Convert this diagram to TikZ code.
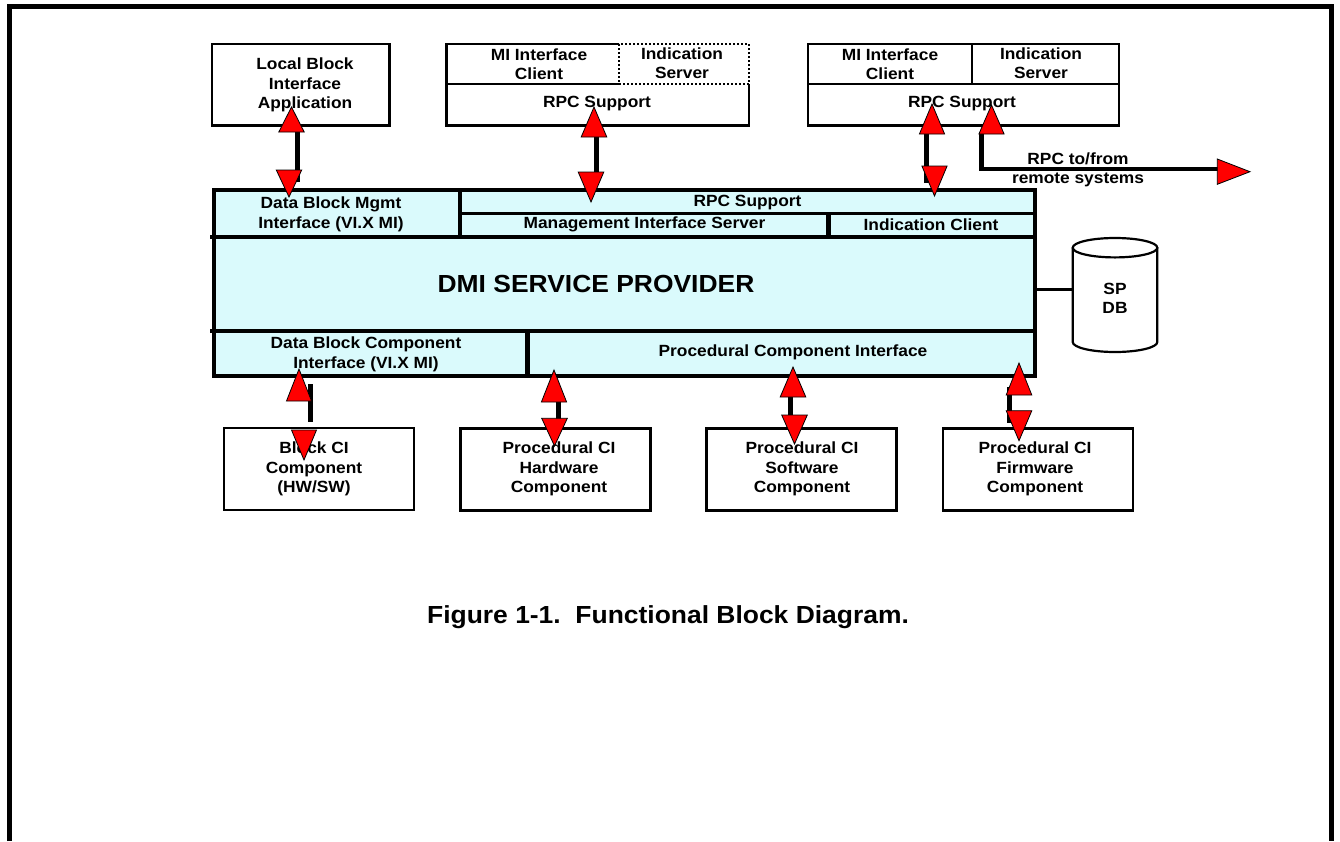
\documentclass[tikz,border=0pt]{standalone}
\usepackage{fontspec}
\setmainfont{Liberation Sans}[FakeStretch=1.07]
\definecolor{dmicyan}{RGB}{218,250,252}
\newcommand\vhd[4]{\filldraw[arrowhd] (#1-#4,#3) -- (#1+#4,#3) -- (#1,#2) -- cycle;}
\begin{document}
\begin{tikzpicture}[x=1pt,y=-1pt,
  lbl/.style={font=\bfseries\fontsize{16.2}{19.5}\selectfont, align=center, inner sep=0pt},
  biglbl/.style={font=\bfseries\fontsize{24.7}{28}\selectfont, inner sep=0pt},
  cell/.style={inner sep=0pt, outer sep=0pt},
  thinln/.style={draw=black, line width=2.4pt},
  botbox/.style={draw=black, line width=2.6pt, fill=white, inner sep=0pt, outer sep=0pt, minimum width=190pt, minimum height=82pt},
  arrowhd/.style={fill=red, draw=black, line width=0.8pt, line join=miter},
  shaft/.style={draw=black, line width=5pt},
]
\useasboundingbox (0,0) rectangle (1340,841);
% outer frame
\draw[line width=5pt] (9,841) -- (9,6.5) -- (1331.5,6.5) -- (1331.5,841);

% ---------- top left box
\node[cell, draw=black, line width=2.4pt, minimum width=177.5pt, minimum height=81.5pt] (lbia) at (300.75,84.75) {};
\node[lbl] (lbiaT) at (305,85) {Local Block\\Interface\\Application};

% ---------- top middle box
\node[cell, minimum width=172.7pt, minimum height=40pt] (mic1) at (532.65,64) {};
\node[cell, minimum width=130pt, minimum height=40pt] (ind1) at (684,64) {};
\node[cell, minimum width=302.7pt, minimum height=41.5pt] (rpc1) at (597.65,104.75) {};
\draw[thinln] (mic1.north east) -- (mic1.north west) -- (rpc1.south west) -- (rpc1.south east) -- (rpc1.north east);
\draw[thinln] (mic1.south west) -- (mic1.south east);
\draw[draw=black, line width=2pt, dash pattern=on 2pt off 2pt] (ind1.north west) rectangle (ind1.south east);
\node[lbl] (mic1T) at (539,64) {MI Interface\\Client};
\node[lbl] (ind1T) at (682,63) {Indication\\Server};
\node[lbl] (rpc1T) at (597,104) {RPC Support};

% ---------- top right box
\node[cell, minimum width=164pt, minimum height=40pt] (mic2) at (890,64) {};
\node[cell, minimum width=147pt, minimum height=40pt] (ind2) at (1045.5,64) {};
\node[cell, minimum width=311pt, minimum height=41.5pt] (rpc2) at (963.5,104.75) {};
\draw[thinln] (mic2.north west) rectangle (rpc2.south east);
\draw[thinln] (mic2.south west) -- (ind2.south east);
\draw[thinln] (mic2.north east) -- (mic2.south east);
\node[lbl] (mic2T) at (890,64) {MI Interface\\Client};
\node[lbl] (ind2T) at (1041,63) {Indication\\Server};
\node[lbl] (rpc2T) at (962,104) {RPC Support};

% ---------- DMI service provider block
\node[cell, draw=black, line width=4.5pt, fill=dmicyan, minimum width=821pt, minimum height=186pt] (dmi) at (624.5,283) {};
\draw[line width=4pt] (210,237) -- (dmi.east |- 0,237);
\draw[line width=4pt] (210,330.7) -- (dmi.east |- 0,330.7);
\draw[line width=4.5pt] (460,190) -- (460,237);
\draw[line width=3pt] (460,213.5) -- (dmi.east |- 0,213.5);
\draw[line width=4.5pt] (828.3,213.5) -- (828.3,237);
\draw[line width=4.5pt] (527.5,330.7) -- (527.5,376);
\node[lbl, font=\bfseries\fontsize{16.2}{20}\selectfont] (dbmT) at (331,214) {Data Block Mgmt\\Interface (VI.X MI)};
\node[lbl] (rpc3T) at (747.5,202.5) {RPC Support};
\node[lbl] (misT) at (644.5,224.5) {Management Interface Server};
\node[lbl] (icT) at (931,224.5) {Indication Client};
\node[biglbl] (dmiT) at (596,284) {DMI SERVICE PROVIDER};
\node[lbl, font=\bfseries\fontsize{16.2}{20}\selectfont] (dbcT) at (366,354) {Data Block Component\\Interface (VI.X MI)};
\node[lbl] (pciT) at (793,352) {Procedural Component Interface};

% ---------- SP DB cylinder
\fill[white] (1072.7,247.7) rectangle (1157.3,342);
\draw[line width=2.2pt, fill=white] (1072.7,247.7) -- (1072.7,342) arc[start angle=180, end angle=0, x radius=42.3, y radius=10] -- (1157.3,247.7);
\draw[line width=2.2pt, fill=white] (1115,247.7) ellipse [x radius=42.3, y radius=9.7];
\node[lbl] (spdb) at (1115,298.5) {SP\\DB};
\coordinate (spdbW) at (1072.7,289.7);
\draw[line width=3.5pt] (spdbW -| dmi.east) -- (spdbW);

% ---------- bottom boxes
\node[botbox] (blk) at (319,469) {};
\node[botbox] (hw) at (555.7,469.25) {};
\node[botbox] (sw) at (801.3,469.5) {};
\node[botbox] (fw) at (1038,469.5) {};
\node[lbl] (blkT) at (314,469) {Block CI\\Component\\(HW/SW)};
\node[lbl] (hwT) at (559,469) {Procedural CI\\Hardware\\Component};
\node[lbl] (swT) at (802,469) {Procedural CI\\Software\\Component};
\node[lbl] (fwT) at (1035,469) {Procedural CI\\Firmware\\Component};

% ---------- caption
\node[biglbl] (cap) at (668,617) {Figure 1-1.~~Functional Block Diagram.};

% ---------- arrows
% A1 local block <-> data block mgmt
\draw[shaft] (297,130) -- (297,182);
\vhd{291.5}{107}{132}{12.7}
\vhd{289}{197}{170}{12.7}
% A2 middle box <-> RPC support
\draw[shaft] (596,136) -- (596,173);
\vhd{594}{107}{137}{12.8}
\vhd{591}{202}{172}{12.8}
% A3 right box <-> RPC support
\draw[shaft] (926,133) -- (926,183);
\vhd{932}{104}{134}{12.6}
\vhd{934.5}{196}{166}{12.6}
% A4 RPC to/from remote systems
\draw[shaft] (981.5,133) -- (981.5,170.5);
\draw[line width=3.5pt] (979,169) -- (1218,169);
\vhd{991.5}{105}{134}{12.6}
\filldraw[arrowhd] (1217.3,159) -- (1217.3,184.3) -- (1250,171.7) -- cycle;
\node[lbl] (remT) at (1078,170) {RPC to/from\\remote systems};
% A5 block CI
\draw[shaft] (310.5,384) -- (310.5,422);
\vhd{299}{369}{401}{12.5}
\vhd{304}{460}{430}{12.5}
% A6 hardware
\draw[shaft] (558.5,400) -- (558.5,419);
\vhd{554}{370}{402}{12.6}
\vhd{554.5}{446}{418.3}{12.8}
% A7 software
\draw[shaft] (790.5,396) -- (790.5,416);
\vhd{793}{367}{397}{12.8}
\vhd{794.5}{444}{415}{12.8}
% A8 firmware
\draw[shaft] (1009,386.7) -- (1009,423.3);
\vhd{1019}{363}{395}{12.8}
\vhd{1019}{440.7}{410.7}{12.8}
\end{tikzpicture}
\end{document}
